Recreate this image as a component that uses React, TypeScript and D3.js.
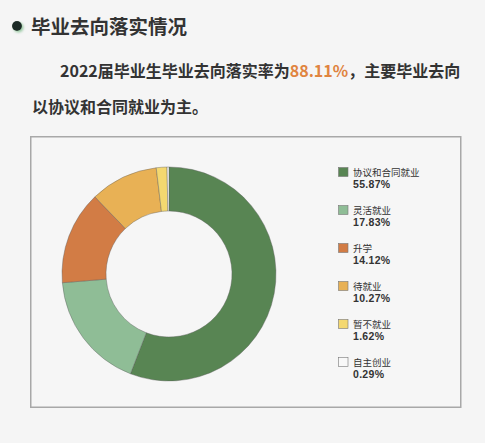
import React from "react";
import * as d3 from "d3";

const categories = ["协议和合同就业", "灵活就业", "升学", "待就业", "暂不就业", "自主创业"];
const values = [55.87, 17.83, 14.12, 10.27, 1.62, 0.29];
const colors = ["#588553", "#8fbd96", "#d27c45", "#e8b155", "#f4d870", "#f8f8f8"];
const title = "毕业去向落实情况";
const rate = "88.11%";

export default function App() {
  const W = 485, H = 443;
  const cx = 169, cy = 274, rOuter = 107, rInner = 63;
  const pie = d3.pie<number>().sort(null).value((d) => d).startAngle(0).endAngle(2 * Math.PI);
  const arcs = pie(values);
  const arc = d3.arc<d3.PieArcDatum<number>>().innerRadius(rInner).outerRadius(rOuter);
  const legendY = d3.scaleLinear().domain([0, 1]).range([172, 210]);
  const font = "'Noto Sans CJK SC', 'Noto Sans', sans-serif";
  return (
    <svg width={W} height={H} style={{ position: "absolute", left: 0, top: 0, background: "#f5f5f5" }} fontFamily={font}>
      <rect x={0} y={0} width={W} height={H} fill="#f5f5f5" />
      <defs>
        <filter id="sh" x="-50%" y="-50%" width="200%" height="200%">
          <feDropShadow dx="1.5" dy="1.5" stdDeviation="1" floodColor="#8fc49a" floodOpacity="0.9" />
        </filter>
      </defs>
      <circle cx={17} cy={26} r={5} fill="#1f2b28" filter="url(#sh)" />
      <text x={31} y={34} fontSize={19.5} fontWeight={700} fill="#333">{title}</text>
      <text x={60} y={77} fontSize={16} fontWeight={700} fill="#333">
        2022届毕业生毕业去向落实率为<tspan fill="#e0843f">{rate}</tspan>，主要毕业去向
      </text>
      <text x={32} y={113} fontSize={16} fontWeight={700} fill="#333">以协议和合同就业为主。</text>
      <rect x={30.75} y={136.75} width={430} height={270.5} fill="#f6f6f6" stroke="#a8a8a8" strokeWidth={1.5} />
      <g transform={`translate(${cx},${cy})`}>
        {arcs.map((a, i) => (
          <path key={i} d={arc(a) || ""} fill={colors[i]} stroke="#5a5a5a" strokeWidth={0.4} />
        ))}
      </g>
      {categories.map((c, i) => {
        const y = legendY(i);
        return (
          <g key={c}>
            <rect x={338.5} y={y - 4.5} width={9.5} height={9} fill={colors[i]} stroke="#777" strokeWidth={0.6} />
            <text x={353} y={y + 3.5} fontSize={9.5} fill="#333">{c}</text>
            <text x={353} y={y + 15.5} fontSize={10.5} fontWeight={700} fill="#333" fontFamily="'Liberation Sans', Arial, sans-serif" letterSpacing={0.3}>
              {values[i].toFixed(2)}%
            </text>
          </g>
        );
      })}
    </svg>
  );
}
